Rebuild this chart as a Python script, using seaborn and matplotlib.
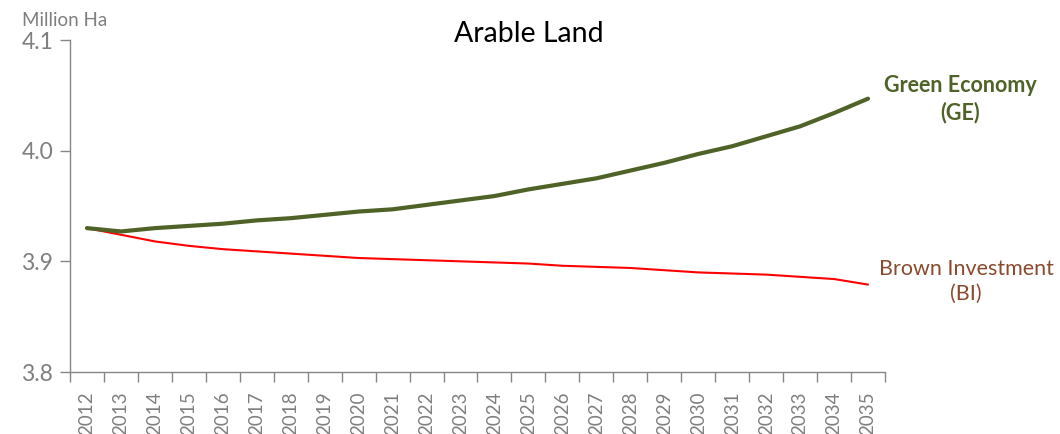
import matplotlib
matplotlib.use("Agg")
import matplotlib.pyplot as plt
from matplotlib.ticker import FixedLocator, FormatStrFormatter
import pandas as pd
import seaborn as sns

years = [str(y) for y in range(2012, 2036)]
green_economy = [3.930, 3.927, 3.930, 3.932, 3.934, 3.937, 3.939, 3.942, 3.945, 3.947,
                 3.951, 3.955, 3.959, 3.965, 3.970, 3.975, 3.982, 3.989, 3.997, 4.004,
                 4.013, 4.022, 4.034, 4.047]
brown_investment = [3.930, 3.924, 3.918, 3.914, 3.911, 3.909, 3.907, 3.905, 3.903, 3.902,
                    3.901, 3.900, 3.899, 3.898, 3.896, 3.895, 3.894, 3.892, 3.890, 3.889,
                    3.888, 3.886, 3.884, 3.879]
y_ticks = [3.8, 3.9, 4.0, 4.1]

GREEN = "#4F6228"
RED = "#FF0000"
BROWN = "#8B4A2E"
GREY = "#7F7F7F"
SPINE = "#868686"

sns.set_style("white")
plt.rcParams["font.family"] = ["Lato", "DejaVu Sans"]

df = pd.DataFrame({
    "year": years * 2,
    "value": green_economy + brown_investment,
    "scenario": ["GE"] * len(years) + ["BI"] * len(years),
})

fig = plt.figure(figsize=(10.6, 4.34), dpi=100)
ax = fig.add_axes([70 / 1060, 1 - 372 / 434, (885 - 70) / 1060, (372 - 40) / 434])

sns.lineplot(data=df[df.scenario == "BI"], x="year", y="value", color=RED,
             linewidth=1.5, ax=ax, legend=False)
sns.lineplot(data=df[df.scenario == "GE"], x="year", y="value", color=GREEN,
             linewidth=3.0, ax=ax, legend=False, solid_capstyle="round")

ax.set_xlim(-0.5, len(years) - 0.5)
ax.set_ylim(3.8, 4.1)
ax.yaxis.set_major_locator(FixedLocator(y_ticks))
ax.yaxis.set_major_formatter(FormatStrFormatter("%.1f"))
ax.set_xlabel("")
ax.set_ylabel("")

# category boundary ticks on the x axis, labels centred on each year
ax.xaxis.set_minor_locator(FixedLocator([i - 0.5 for i in range(len(years) + 1)]))
ax.tick_params(axis="x", which="major", length=0, pad=14, labelsize=13.5,
               labelcolor=GREY, rotation=90)
ax.tick_params(axis="x", which="minor", length=7, width=1, color=SPINE, direction="out")
ax.tick_params(axis="y", which="major", length=7, width=1, color=SPINE, direction="out",
               labelsize=16.5, labelcolor=GREY, pad=5)
ax.tick_params(axis="x", bottom=True, which="both")
ax.tick_params(axis="y", left=True)

for side in ["top", "right"]:
    ax.spines[side].set_visible(False)
for side in ["left", "bottom"]:
    ax.spines[side].set_color(SPINE)
    ax.spines[side].set_linewidth(1)

fig.text(529 / 1060, 1 - 34 / 434, "Arable Land", ha="center", va="center",
         fontsize=20.5, color="black")
fig.text(22 / 1060, 1 - 20 / 434, "Million Ha", ha="left", va="center",
         fontsize=13.5, color=GREY)

fig.text(960 / 1060, 1 - 99 / 434, "Green Economy\n(GE)", ha="center", va="center",
         fontsize=15.5, fontweight="bold", color=GREEN, linespacing=1.3)
fig.text(966 / 1060, 1 - 281 / 434, "Brown Investment\n(BI)", ha="center", va="center",
         fontsize=15.5, color=BROWN, linespacing=1.3)

fig.savefig("out.png", dpi=100)
